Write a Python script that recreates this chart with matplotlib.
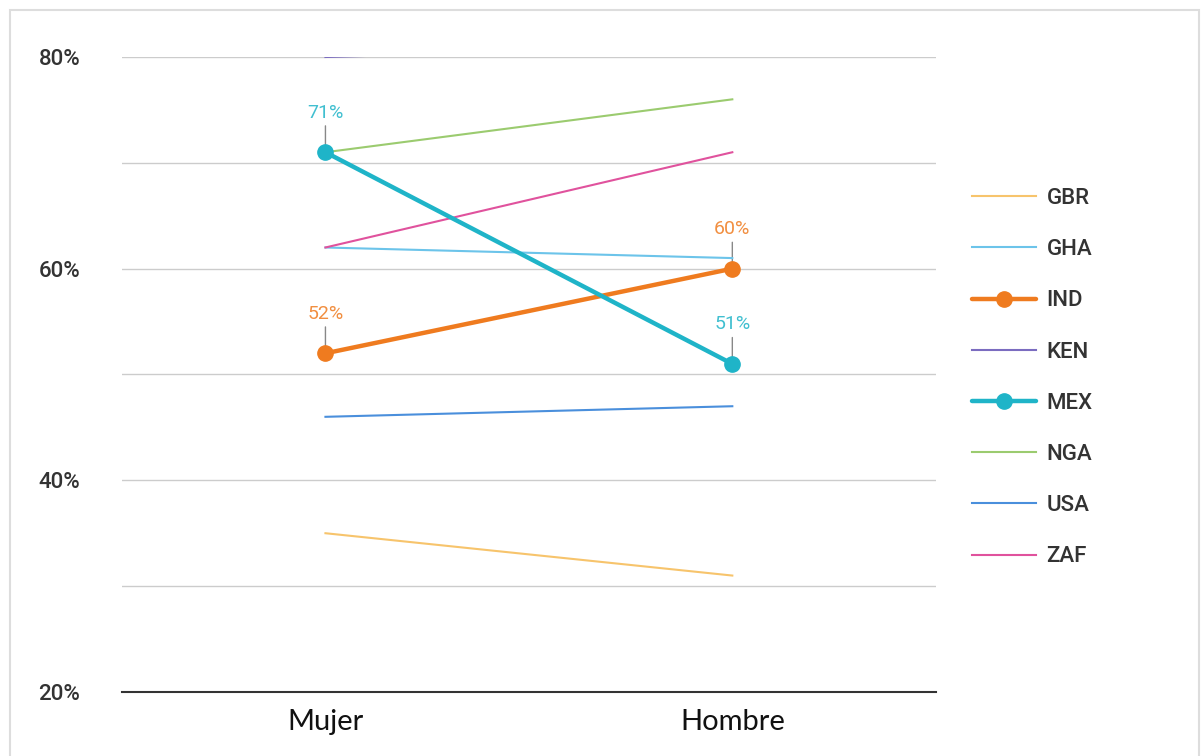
import numpy as np
import matplotlib.pyplot as plt
from matplotlib.patches import Rectangle

# Datos (porcentaje)
categorias = ["Mujer", "Hombre"]
paises = ["GBR", "GHA", "IND", "KEN", "MEX", "NGA", "USA", "ZAF"]
gbr = [35, 31]
gha = [62, 61]
ind = [52, 60]
ken = [80, 81]
mex = [71, 51]
nga = [71, 76]
usa = [46, 47]
zaf = [62, 71]
valores = [gbr, gha, ind, ken, mex, nga, usa, zaf]
colores = ["#f7c46c", "#6cc4ea", "#ef7b1f", "#7b6cc0", "#1fb4c8",
           "#9bcb6f", "#4a8fdc", "#e0529d"]
destacados = ["IND", "MEX"]
yticks = [20, 40, 60, 80]
ygrid = [30, 50, 70]

fig = plt.figure(figsize=(12.02, 7.56), dpi=100)
ax = fig.add_axes([0.1015, 0.0847, 0.677, 0.8399])

# Marco de la figura
fig.patches.append(Rectangle((10 / 1202, -0.01), 1189 / 1202, 1 - 10 / 756 + 0.01,
                             transform=fig.transFigure, fill=False,
                             edgecolor="#dddddd", linewidth=1.5))

x = np.arange(len(categorias))
for pais, vals, col in zip(paises, valores, colores):
    if pais in destacados:
        ax.plot(x, vals, color=col, linewidth=3.2, marker="o", markersize=11,
                label=pais, zorder=4, solid_capstyle="round")
        for xi, v in zip(x, vals):
            ax.annotate(f"{v}%", xy=(xi, v), xytext=(0, 22), textcoords="offset points",
                        ha="center", va="bottom", color=col, fontsize=14,
                        family="Roboto", alpha=0.85,
                        arrowprops=dict(arrowstyle="-", color="#888888", lw=1,
                                        shrinkA=1, shrinkB=0),
                        zorder=2)
    else:
        ax.plot(x, vals, color=col, linewidth=1.5, label=pais, zorder=3)

ax.set_xlim(-0.5, 1.5)
ax.set_ylim(20, 80)
ax.set_yticks(yticks)
ax.set_yticklabels([f"{t}%" for t in yticks], family="Roboto", fontsize=16,
                   color="#333333", fontweight="medium")
for g in yticks[1:] + ygrid:
    ax.axhline(g, color="#cccccc", linewidth=1, zorder=1)
ax.axhline(20, color="#333333", linewidth=1.5, zorder=1, clip_on=False)
ax.set_xticks(x)
ax.set_xticklabels(categorias, family="Lato", fontsize=21, color="#111111")
ax.tick_params(axis="both", length=0)
ax.tick_params(axis="y", pad=30)
ax.tick_params(axis="x", pad=12)
for s in ax.spines.values():
    s.set_visible(False)

leg = ax.legend(loc="center left", bbox_to_anchor=(1.02, 0.495), frameon=False,
                prop={"family": "Roboto", "size": 16, "weight": "medium"},
                handlelength=2.9, labelspacing=1.36, handletextpad=0.45)
for t in leg.get_texts():
    t.set_color("#333333")

plt.savefig("out.png", dpi=100)
